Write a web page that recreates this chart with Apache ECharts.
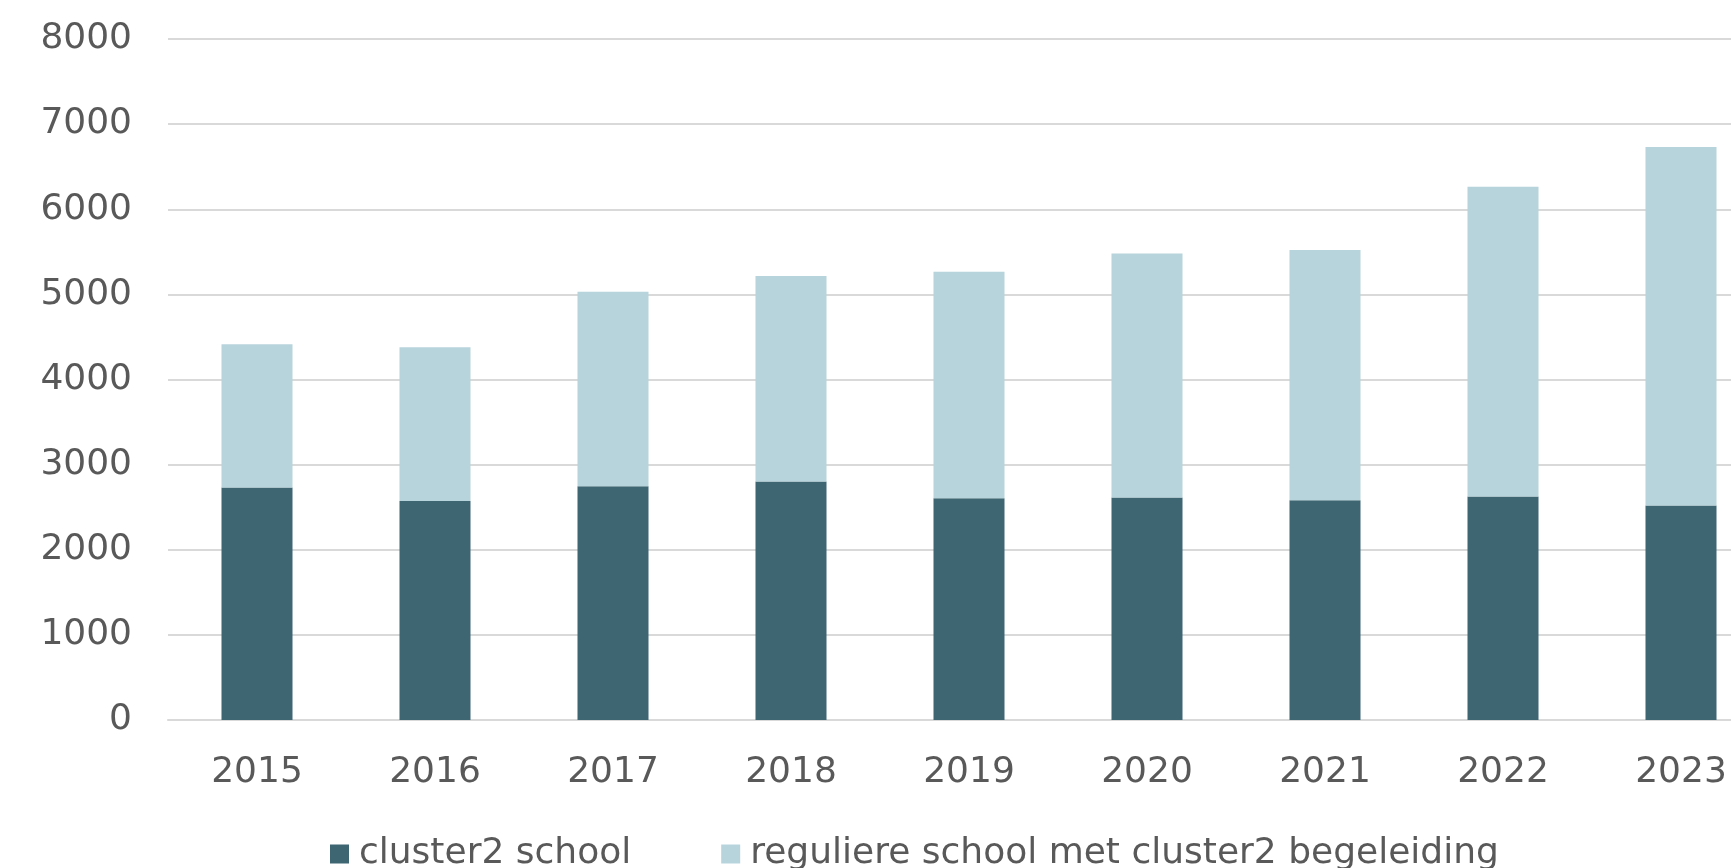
<!DOCTYPE html>
<html lang="nl">
    <head>
        <meta charset="utf-8">
        <title>cluster2 leerlingen</title>
        <style type="text/css">
            *{padding: 0;margin: 0;}
            body,html{
                position: absolute;left: 0;top: 0;width: 100%;height: 100%;background: #fff;overflow: hidden;
            }
            /* de figuur is rechts afgesneden, dus de grafiek is iets breder dan het venster */
            #chart{position: absolute;left: 0;top: 0;width: 1770px;height: 868px;}
        </style>
    </head>
    <body>
        <div id="chart"></div>
        <script src="https://cdn.jsdelivr.net/npm/echarts@6/dist/echarts.min.js"></script>
        <script type="text/javascript">
        // jaren op de x-as
        var years = ['2015', '2016', '2017', '2018', '2019', '2020', '2021', '2022', '2023'];
        // leerlingen op een cluster2 school
        var clusterSchool = [2730, 2573, 2746, 2801, 2605, 2613, 2581, 2625, 2519];
        // leerlingen in regulier onderwijs met cluster2 begeleiding
        var regulierBegeleid = [1683, 1805, 2284, 2415, 2662, 2866, 2940, 3640, 4213];
        var seriesNames = ['cluster2 school', 'reguliere school met cluster2 begeleiding'];

        var textColor = '#595959';
        var fontFamily = '"DejaVu Sans", Verdana, sans-serif';

        var myChart = echarts.init(document.getElementById('chart'));
        var option = {
            backgroundColor: '#ffffff',
            animation: false,
            legend: {
                data: seriesNames,
                left: 330,
                top: 836,
                padding: 0,
                itemGap: 90,
                itemWidth: 19,
                itemHeight: 19,
                icon: 'rect',
                textStyle: {
                    color: textColor,
                    fontFamily: fontFamily,
                    fontSize: 36,
                    padding: [0, 0, 0, 5]
                }
            },
            grid: {
                left: 168,
                top: 39,
                right: 0,
                height: 681,
                containLabel: false
            },
            xAxis: {
                type: 'category',
                data: years,
                axisLine: { lineStyle: { color: '#d9d9d9', width: 2 } },
                axisTick: { show: false },
                axisLabel: {
                    color: textColor,
                    fontFamily: fontFamily,
                    fontSize: 36,
                    margin: 35
                }
            },
            yAxis: {
                type: 'value',
                min: 0,
                max: 8000,
                interval: 1000,
                axisLine: { show: false },
                axisTick: { show: false },
                splitLine: { lineStyle: { color: '#d9d9d9', width: 2 } },
                axisLabel: {
                    color: textColor,
                    fontFamily: fontFamily,
                    fontSize: 36,
                    margin: 36,
                    formatter: function (v) { return String(v); }
                }
            },
            series: [
                {
                    name: seriesNames[0],
                    type: 'bar',
                    stack: 'totaal',
                    barWidth: 71,
                    data: clusterSchool,
                    itemStyle: { color: '#3d6672' }
                },
                {
                    name: seriesNames[1],
                    type: 'bar',
                    stack: 'totaal',
                    barWidth: 71,
                    data: regulierBegeleid,
                    itemStyle: { color: '#b7d4dc' }
                }
            ]
        };
        myChart.setOption(option);
        </script>
    </body>
</html>
